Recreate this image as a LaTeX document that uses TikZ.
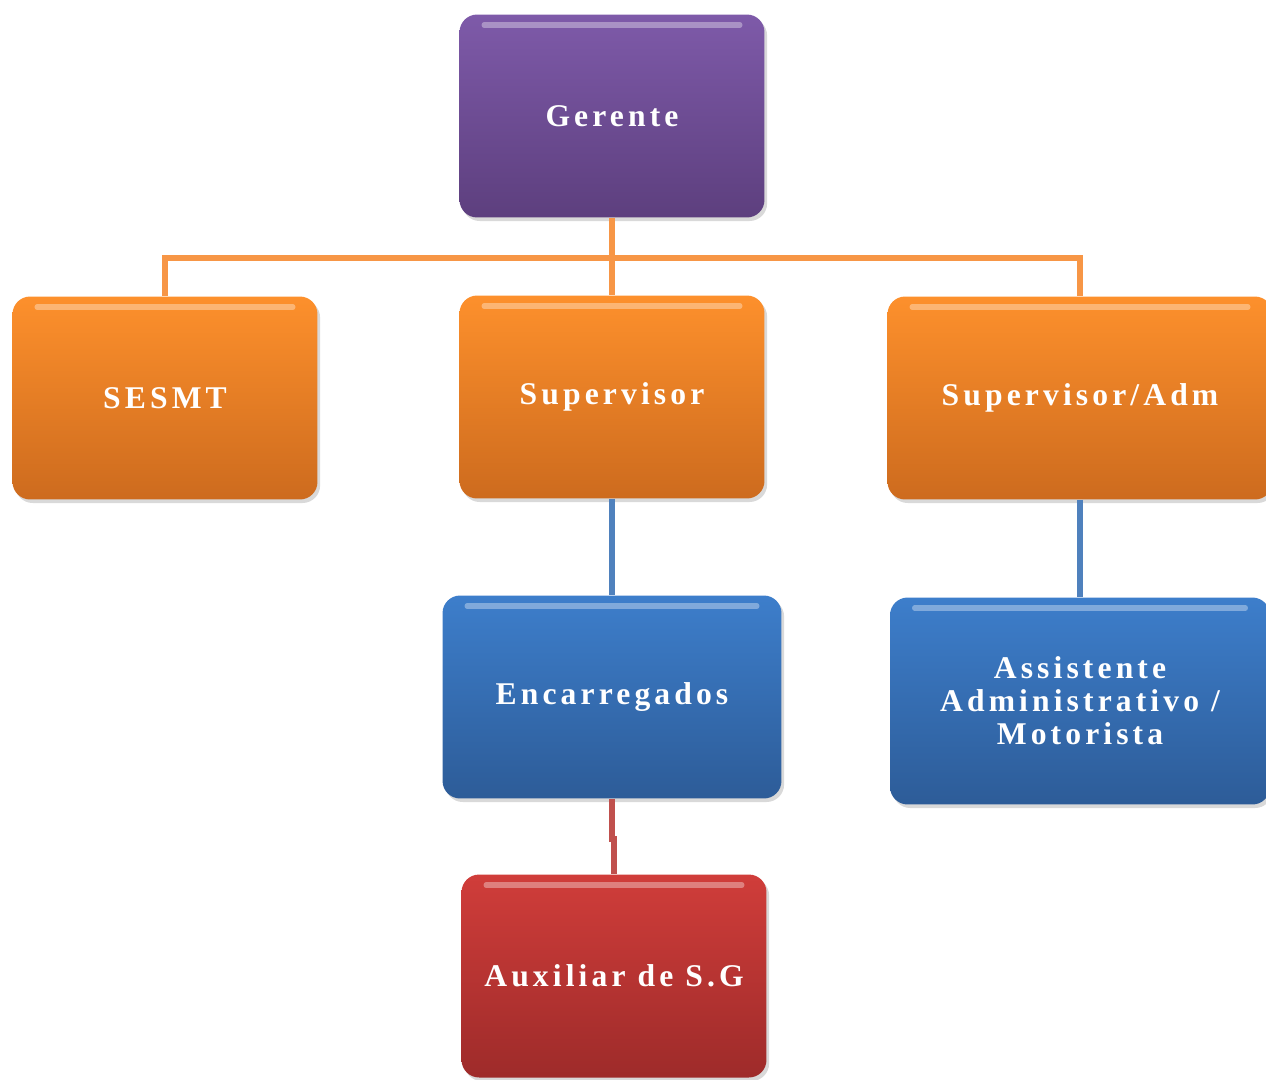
\documentclass[tikz,border=0pt]{standalone}
\usepackage{fontspec}
\setmainfont{Liberation Serif}
\newfontfamily\cargofont[LetterSpace=13]{Liberation Serif}
\usepackage{tikz}
\usetikzlibrary{positioning,shadows}
\definecolor{roxoT}{HTML}{7E5AA9}
\definecolor{roxoB}{HTML}{5D3F7E}
\definecolor{laranjaT}{HTML}{FD902C}
\definecolor{laranjaB}{HTML}{CD6B1E}
\definecolor{azulT}{HTML}{3D7ECB}
\definecolor{azulB}{HTML}{2D5C98}
\definecolor{vermT}{HTML}{D03D3A}
\definecolor{vermB}{HTML}{9E2B2A}
\definecolor{laranjaL}{HTML}{F79646}
\definecolor{azulL}{HTML}{4F81BD}
\definecolor{vermL}{HTML}{C0504D}
\tikzset{
  cargo/.style={rectangle, rounded corners=10pt, top color=#1T, bottom color=#1B,
                text=white, align=center, minimum width=6.1cm, minimum height=4.06cm,
                font=\cargofont\bfseries\fontsize{18}{18.7}\selectfont,
                drop shadow={opacity=0.3, shadow xshift=1.5pt, shadow yshift=-2pt},
                path picture={\draw[white, opacity=0.35, line width=3pt, line cap=round]
                  ([xshift=14pt,yshift=-6pt]path picture bounding box.north west) --
                  ([xshift=-14pt,yshift=-6pt]path picture bounding box.north east);}},
  liga/.style={line width=3.3pt, draw=#1},
}

\begin{document}
\begin{tikzpicture}[x=0.02cm, y=-0.02cm]
    \useasboundingbox (0,0) rectangle (1266,1079);
    \node[cargo=roxo] (ger) at (612,116) {Gerente};
    \node[cargo=laranja] (sesmt) at (165,398) {SESMT};
    \node[cargo=laranja] (sup) at (612,397) {Supervisor};
    \node[cargo=laranja, minimum width=7.7cm] (adm) at (1080,398) {Supervisor/Adm};
    \node[cargo=azul, minimum width=6.78cm] (enc) at (612,697) {Encarregados};
    \node[cargo=azul, minimum width=7.6cm, minimum height=4.14cm] (assist) at (1080,701)
      {Assistente\\Administrativo /\\Motorista};
    \node[cargo=verm] (aux) at (614,976) {Auxiliar de S.G};
    \coordinate (barra) at (612,258);
    \draw[liga=laranjaL] (ger.south) -- (sup.north);
    \draw[liga=laranjaL] (barra) -| (sesmt.north);
    \draw[liga=laranjaL] (barra) -| (adm.north);
    \draw[liga=azulL] (sup.south) -- (enc.north);
    \draw[liga=azulL] (adm.south) -- (assist.north);
    \draw[liga=vermL] (enc.south) -- ++(0,40) -| (aux.north);
  \end{tikzpicture}
\end{document}
